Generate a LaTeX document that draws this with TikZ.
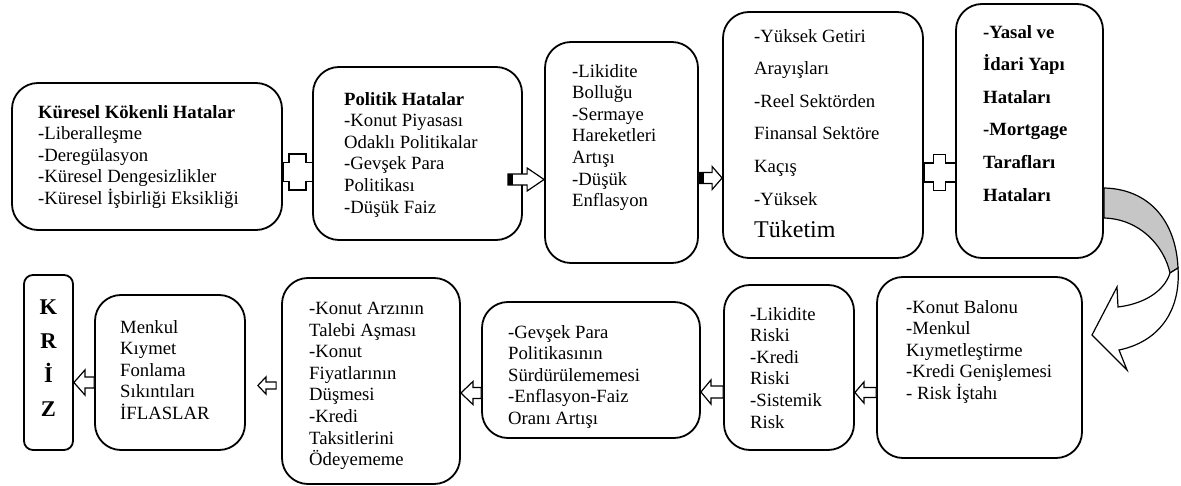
\documentclass[tikz,border=0pt]{standalone}
\usepackage{fontspec}
\setmainfont{Liberation Serif}
\usetikzlibrary{calc}

\tikzset{
  kutu/.style={draw, line width=1.8pt, rounded corners=26pt},
  metin/.style={anchor=north west, inner sep=0pt, align=left, font=\fontsize{18.7}{21.6}\selectfont},
  seyrek/.style={metin, font=\fontsize{18.7}{32.6}\selectfont},
  ok/.style={draw, line width=1.2pt, fill=white},
}
\newcommand{\sagok}[4]{%
  \draw[ok] let \p1=(#1 |- 0,#3), \p2=(#2 |- 0,#3) in (\x1,\y1+5.5pt) -- (\x2-#4pt,\y1+5.5pt) -- (\x2-#4pt,\y1+11.5pt) -- (\x2,\y1) -- (\x2-#4pt,\y1-11.5pt) -- (\x2-#4pt,\y1-5.5pt) -- (\x1,\y1-5.5pt) -- cycle;
  \fill let \p1=(#1 |- 0,#3) in (\x1,\y1+5.5pt) rectangle (\x1+5pt,\y1-5.5pt);}
\newcommand{\solok}[6]{%
  \draw[ok] let \p1=(#1 |- 0,#3), \p2=(#2 |- 0,#3) in (\x1,\y1+#5pt) -- (\x2+#4pt,\y1+#5pt) -- (\x2+#4pt,\y1+#6pt) -- (\x2,\y1) -- (\x2+#4pt,\y1-#6pt) -- (\x2+#4pt,\y1-#5pt) -- (\x1,\y1-#5pt) -- cycle;}
\newcommand{\arti}[4]{%
  \draw[ok] let \p1=(#1 |- 0,#3), \p2=(#2 |- 0,#3) in (\x1,\y1+9.5pt) -- ({(\x1+\x2)/2-#4pt},\y1+9.5pt) -- ({(\x1+\x2)/2-#4pt},\y1+18pt) -- ({(\x1+\x2)/2+#4pt},\y1+18pt) -- ({(\x1+\x2)/2+#4pt},\y1+9.5pt) -- (\x2,\y1+9.5pt) -- (\x2,\y1-9.5pt) -- ({(\x1+\x2)/2+#4pt},\y1-9.5pt) -- ({(\x1+\x2)/2+#4pt},\y1-18pt) -- ({(\x1+\x2)/2-#4pt},\y1-18pt) -- ({(\x1+\x2)/2-#4pt},\y1-9.5pt) -- (\x1,\y1-9.5pt) -- cycle;}

\begin{document}
\begin{tikzpicture}[x=1pt, y=-1pt]
\useasboundingbox (0,0) rectangle (1181,486);

\node[kutu, minimum width=270pt, minimum height=147pt] (kuresel) at (147,156.5) {};
\node[kutu, minimum width=209pt, minimum height=173pt] (politik) at (417.5,153.5) {};
\node[kutu, minimum width=153pt, minimum height=221pt] (likidite) at (621.5,152.5) {};
\node[kutu, minimum width=200pt, minimum height=246pt] (getiri) at (823,135) {};
\node[kutu, minimum width=147pt, minimum height=254pt] (yasal) at (1029.5,131) {};
\node[kutu, minimum width=205pt, minimum height=181pt] (balon) at (979.5,367.5) {};
\node[kutu, minimum width=130pt, minimum height=165pt] (risk) at (789,367.5) {};
\node[kutu, minimum width=218pt, minimum height=136pt] (gevsek) at (591,370) {};
\node[kutu, minimum width=178pt, minimum height=206pt] (arz) at (371,381) {};
\node[kutu, minimum width=150pt, minimum height=155pt] (menkul) at (170,372.5) {};
\node[kutu, rounded corners=9pt, minimum width=49pt, minimum height=175pt] (kriz) at (48.5,362.5) {};

\node[metin] (kuresel-m) at (38,105) {\textbf{Küresel Kökenli Hatalar}\\-Liberalleşme\\-Deregülasyon\\-Küresel Dengesizlikler\\-Küresel İşbirliği Eksikliği};
\node[metin] (politik-m) at (344,92) {\textbf{Politik Hatalar}\\-Konut Piyasası\\Odaklı Politikalar\\-Gevşek Para\\Politikası\\-Düşük Faiz};
\node[metin] (likidite-m) at (572,64) {-Likidite\\Bolluğu\\-Sermaye\\Hareketleri\\Artışı\\-Düşük\\Enflasyon};
\node[seyrek] (getiri-m) at (754,29) {-Yüksek Getiri\\Arayışları\\-Reel Sektörden\\Finansal Sektöre\\Kaçış\\-Yüksek\\{\fontsize{24}{32.6}\selectfont Tüketim}};
\node[seyrek, font=\fontsize{18.7}{32.6}\selectfont\bfseries] (yasal-m) at (983,25) {-Yasal ve\\İdari Yapı\\Hataları\\-Mortgage\\Tarafları\\Hataları};
\node[metin] (balon-m) at (906,300) {-Konut Balonu\\-Menkul\\Kıymetleştirme\\-Kredi Genişlemesi\\- Risk İştahı};
\node[metin] (risk-m) at (750,307) {-Likidite\\Riski\\-Kredi\\Riski\\-Sistemik\\Risk};
\node[metin] (gevsek-m) at (508,325) {-Gevşek Para\\Politikasının\\Sürdürülememesi\\-Enflasyon-Faiz\\Oranı Artışı};
\node[metin] (arz-m) at (309,302) {-Konut Arzının\\Talebi Aşması\\-Konut\\Fiyatlarının\\Düşmesi\\-Kredi\\Taksitlerini\\Ödeyememe};
\node[metin] (menkul-m) at (120,320) {Menkul\\Kıymet\\Fonlama\\Sıkıntıları\\İFLASLAR};
\node[anchor=north, inner sep=0pt, align=center, font=\fontsize{22.5}{34}\selectfont\bfseries] (kriz-m) at (48.5,300) {K\\R\\İ\\Z};

\coordinate (p-ok) at ([xshift=-15pt]politik.east);
\coordinate (o9) at ([xshift=-5pt]arz.west);
\coordinate (u10) at ([xshift=12pt]menkul.east);

\arti{kuresel.east}{politik.west}{172}{8.5}
\sagok{p-ok}{likidite.west}{179.5}{17}
\sagok{likidite.east}{getiri.west}{178}{10}
\arti{getiri.east}{yasal.west}{172.5}{6}

\draw[ok, fill=gray!45] (yasal.east |- 0,188) .. controls (1150,189) and (1176,222) .. (1178,268) -- (1170,273) .. controls (1164,246) and (1140,219) .. (yasal.east |- 0,218) -- cycle;
\draw[ok] (1178,268) .. controls (1181,312) and (1158,342) .. (1119,350) -- (1127,370) -- (1092,335) -- (1117,287) -- (1118,307) .. controls (1143,304) and (1164,292) .. (1170,273) -- cycle;

\solok{balon.west}{risk.east}{392.5}{9}{5}{10.5}
\solok{risk.west}{gevsek.east}{392}{10}{6}{12}
\solok{gevsek.west}{arz.east}{393}{12}{5.5}{11.5}
\solok{o9}{u10}{385.5}{8}{3.5}{8.5}
\solok{menkul.west}{kriz.east}{382.5}{11}{5.5}{12.5}
\end{tikzpicture}
\end{document}
